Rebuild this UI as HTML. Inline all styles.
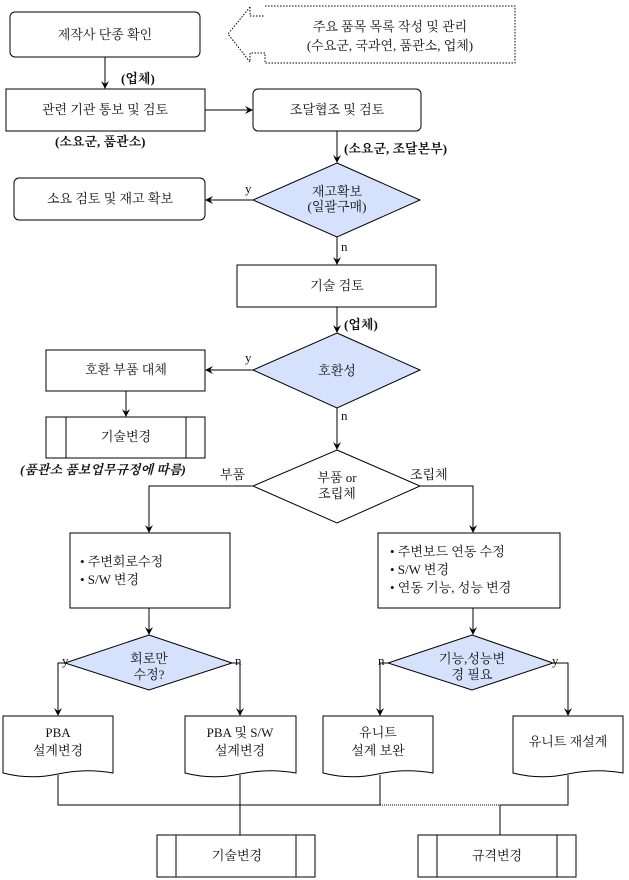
<!DOCTYPE html>
<html><head><meta charset="utf-8"><style>
html,body{margin:0;padding:0;background:#fff;}
svg{display:block;}
text{font-family:"Liberation Serif","Noto Serif CJK SC","Noto Sans CJK KR",serif;font-size:13px;fill:#111;}
.b{font-weight:bold;}
</style></head><body>
<svg width="629" height="880" viewBox="0 0 629 880" xmlns="http://www.w3.org/2000/svg">
<defs><marker id="a" markerWidth="8" markerHeight="8" refX="7" refY="4" orient="auto"><path d="M0,0 L8,4 L0,8 L3,4 z" fill="#000"/></marker></defs>
<g fill="none" stroke="#000" stroke-width="1">
<rect x="10" y="12" width="190" height="45" rx="5"/>
<path d="M250,7 L250,16 L265,16 M265,6 L515,6 L515,63 L265,63 L265,53 L250,53 L250,62 L228,34 L250,7" stroke-dasharray="1.5,1.5"/>
<rect x="6" y="89" width="199" height="42"/>
<rect x="253" y="89" width="168" height="42" rx="5"/>
<rect x="14" y="178" width="191" height="42" rx="5"/>
<rect x="237" y="265" width="199" height="42"/>
<rect x="46" y="350" width="159" height="41"/>
<rect x="46" y="417" width="159" height="41"/><line x1="66" y1="417" x2="66" y2="458"/><line x1="186" y1="417" x2="186" y2="458"/>
<rect x="70" y="533" width="160" height="75"/>
<rect x="378" y="533" width="182" height="75"/>
<rect x="157" y="835" width="158" height="42"/><line x1="176" y1="835" x2="176" y2="877"/><line x1="296" y1="835" x2="296" y2="877"/>
<rect x="418" y="835" width="158" height="42"/><line x1="437" y1="835" x2="437" y2="877"/><line x1="557" y1="835" x2="557" y2="877"/>
<polygon points="337,163 420,200 337,237 253,200" fill="#d6e2fb"/>
<polygon points="337,333 420,370 337,408 253,370" fill="#d6e2fb"/>
<polygon points="337,450 420,486 337,523 253,486" fill="#fff"/>
<polygon points="149,635 232,663 149,690 65,663" fill="#d6e2fb"/>
<polygon points="472,635 553,663 472,690 388,663" fill="#d6e2fb"/>
<path d="M3,716 L113,716 L113,773 Q85,768 58,774 Q30,780 3,773 Z"/>
<path d="M185,716 L296,716 L296,773 Q268,768 240,774 Q212,780 185,773 Z"/>
<path d="M323,716 L433,716 L433,773 Q405,768 378,774 Q350,780 323,773 Z"/>
<path d="M513,716 L623,716 L623,773 Q595,768 568,774 Q540,780 513,773 Z"/>
<line x1="105" y1="57" x2="105" y2="88" marker-end="url(#a)"/>
<line x1="205" y1="110" x2="252" y2="110" marker-end="url(#a)"/>
<line x1="337" y1="131" x2="337" y2="162" marker-end="url(#a)"/>
<line x1="253" y1="200" x2="206" y2="200" marker-end="url(#a)"/>
<line x1="337" y1="237" x2="337" y2="264" marker-end="url(#a)"/>
<line x1="337" y1="307" x2="337" y2="332" marker-end="url(#a)"/>
<line x1="253" y1="370" x2="206" y2="370" marker-end="url(#a)"/>
<line x1="126" y1="391" x2="126" y2="416" marker-end="url(#a)"/>
<line x1="337" y1="408" x2="337" y2="449" marker-end="url(#a)"/>
<path d="M253,486 L149,486 L149,532" marker-end="url(#a)"/>
<path d="M420,486 L473,486 L473,532" marker-end="url(#a)"/>
<line x1="149" y1="608" x2="149" y2="634" marker-end="url(#a)"/>
<line x1="473" y1="608" x2="473" y2="634" marker-end="url(#a)"/>
<path d="M65,663 L58,663 L58,715" marker-end="url(#a)"/>
<path d="M232,663 L240,663 L240,715" marker-end="url(#a)"/>
<path d="M388,663 L380,663 L380,715" marker-end="url(#a)"/>
<path d="M553,663 L568,663 L568,715" marker-end="url(#a)"/>
<path d="M58,775 L58,805 L380,805 M240,775 L240,805 L240,835 M380,775 L380,805 M568,775 L568,805 L500,805 L500,835"/>
<line x1="380" y1="805" x2="500" y2="805" stroke-dasharray="1,1"/>
</g>
<g text-anchor="middle">
<text x="105" y="39">제작사 단종 확인</text>
<text x="390" y="31">주요 품목 목록 작성 및 관리</text>
<text x="390" y="50">(수요군, 국과연, 품관소, 업체)</text>
<text x="105" y="114">관련 기관 통보 및 검토</text>
<text x="337" y="114">조달협조 및 검토</text>
<text x="110" y="203">소요 검토 및 재고 확보</text>
<text x="337" y="196">재고확보</text>
<text x="337" y="211">(일괄구매)</text>
<text x="337" y="290">기술 검토</text>
<text x="337" y="375">호환성</text>
<text x="126" y="374">호환 부품 대체</text>
<text x="126" y="441">기술변경</text>
<text x="337" y="482">부품 or</text>
<text x="337" y="498">조립체</text>
<text x="149" y="663">회로만</text>
<text x="149" y="679">수정?</text>
<text x="472" y="663">기능,성능변</text>
<text x="472" y="679">경 필요</text>
<text x="58" y="737">PBA</text>
<text x="58" y="755">설계변경</text>
<text x="240" y="737">PBA 및 S/W</text>
<text x="240" y="755">설계변경</text>
<text x="378" y="737">유니트</text>
<text x="378" y="755">설계 보완</text>
<text x="568" y="746">유니트 재설계</text>
<text x="237" y="860">기술변경</text>
<text x="497" y="860">규격변경</text>
</g>
<text x="121" y="83" class="b">(업체)</text>
<text x="55" y="146" class="b">(소요군, 품관소)</text>
<text x="344" y="153" class="b">(소요군, 조달본부)</text>
<text x="344" y="329" class="b">(업체)</text>
<text x="20" y="474" class="b" font-style="italic">(품관소 품보업무규정에 따름)</text>
<text x="245" y="193">y</text><text x="341" y="251">n</text>
<text x="245" y="362">y</text><text x="341" y="420">n</text>
<text x="220" y="479">부품</text><text x="410" y="479">조립체</text>
<text x="62" y="665">y</text><text x="235" y="665">n</text>
<text x="378" y="665">n</text><text x="552" y="665">y</text>
<text x="80" y="566">•  주변회로수정</text>
<text x="80" y="584">•  S/W 변경</text>
<text x="390" y="556">•  주변보드 연동 수정</text>
<text x="390" y="574">•  S/W 변경</text>
<text x="390" y="592">•  연동 기능, 성능 변경</text>
</svg>
</body></html>
